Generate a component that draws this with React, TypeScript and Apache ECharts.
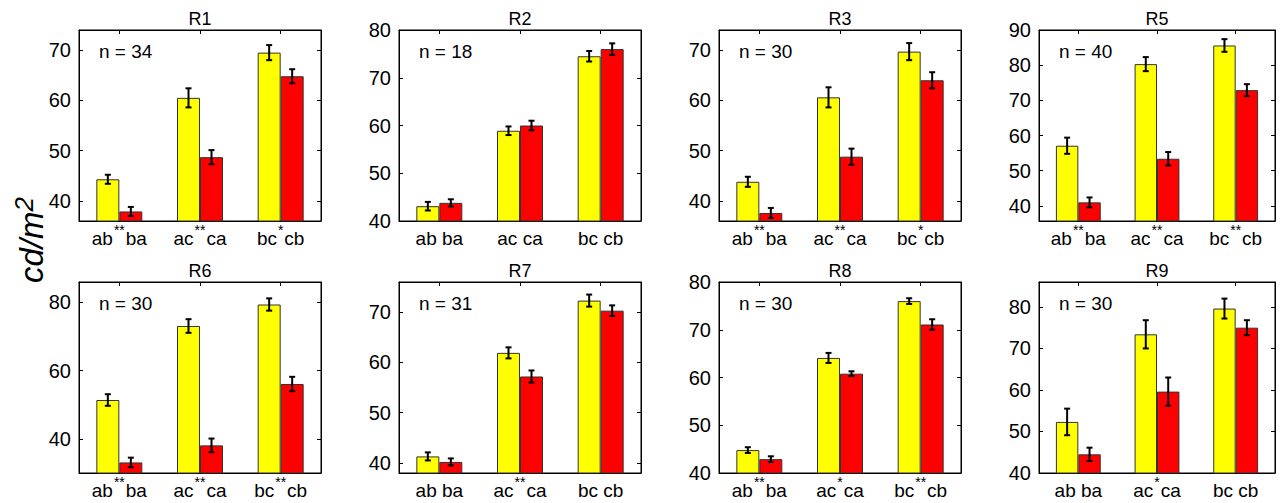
import React, { useEffect, useRef } from "react";
import * as echarts from "echarts";

const panelTitles = ["R1", "R2", "R3", "R5", "R6", "R7", "R8", "R9"];
const sampleSizes = [34, 18, 30, 40, 30, 31, 30, 30];
const categories = ["ab ba", "ac ca", "bc cb"];
const yellowMeans = [
  [44.3, 60.5, 69.5],
  [43.1, 58.9, 74.5],
  [43.8, 60.6, 69.7],
  [57.1, 80.3, 85.6],
  [51.4, 73.1, 79.4],
  [41.3, 61.9, 72.3],
  [44.8, 64.1, 76.0],
  [52.3, 73.4, 79.6],
];
const yellowErrors = [
  [0.9, 1.9, 1.5],
  [0.9, 0.9, 1.1],
  [1.0, 2.0, 1.7],
  [2.3, 2.0, 1.8],
  [1.7, 2.0, 1.8],
  [0.8, 1.1, 1.2],
  [0.6, 1.05, 0.6],
  [3.2, 3.4, 2.4],
];
const redMeans = [
  [37.9, 48.7, 64.8],
  [43.8, 60.0, 76.0],
  [37.6, 48.8, 64.0],
  [41.0, 53.4, 72.9],
  [33.1, 38.1, 56.1],
  [40.2, 57.2, 70.3],
  [42.9, 60.8, 71.1],
  [44.5, 59.6, 75.0],
];
const redErrors = [
  [0.9, 1.4, 1.4],
  [0.75, 1.0, 1.2],
  [1.0, 1.6, 1.6],
  [1.4, 1.9, 1.7],
  [1.4, 2.0, 2.1],
  [0.7, 1.2, 1.05],
  [0.6, 0.5, 1.1],
  [1.6, 3.4, 1.8],
];
const significance = [
  ["**", "**", "*"],
  ["", "", ""],
  ["**", "**", "*"],
  ["**", "**", "**"],
  ["**", "**", "**"],
  ["", "**", ""],
  ["**", "*", "**"],
  ["", "*", ""],
];
const yMins = [36, 40, 36, 35.7, 30, 38, 40, 40];
const yMaxs = [74, 80, 74, 90, 86, 76, 80, 86];
const yTickSteps = [10, 10, 10, 10, 20, 10, 10, 10];
const yAxisLabel = "cd/m";
const yAxisLabelSup = "2";

const FONT = "'Liberation Sans', Arial, Helvetica, sans-serif";
const BAR_FRAC = 0.285;
const colLefts = [79, 399, 719, 1039];
const colWidths = [242, 242, 242, 236];
const rowTops = [30, 282];
const GRID_H = 191;

export default function App() {
  const ref = useRef<HTMLDivElement>(null);

  useEffect(() => {
    if (!ref.current) return;
    const chart = echarts.init(ref.current, null, { renderer: "svg" });

    const grids: any[] = [];
    const xAxes: any[] = [];
    const yAxes: any[] = [];
    const series: any[] = [];
    const graphics: any[] = [];

    panelTitles.forEach((title, p) => {
      const col = p % 4;
      const row = Math.floor(p / 4);
      const left = colLefts[col];
      const top = rowTops[row];
      const width = colWidths[col];
      grids.push({
        left,
        top,
        width,
        height: GRID_H,
        show: true,
        borderColor: "#000",
        borderWidth: 1,
        backgroundColor: "#fff",
        containLabel: false,
      });
      const step = yTickSteps[p];
      const yMin = yMins[p];
      const yMax = yMaxs[p];
      xAxes.push({
        type: "category",
        gridIndex: p,
        data: categories,
        position: "bottom",
        axisLine: { show: true, lineStyle: { color: "#000", width: 1 } },
        axisTick: { show: false },
        axisLabel: {
          color: "#000",
          fontFamily: FONT,
          margin: 2,
          interval: 0,
          hideOverlap: false,
          formatter: (v: string, i: number) => {
            const s = significance[p][i];
            if (!s) return `{w|${v}}`;
            const parts = v.split(" ");
            return `{w|${parts[0]}}{s|${s}}{w|${parts[1]}}`;
          },
          rich: {
            w: { fontFamily: FONT, fontSize: 19, lineHeight: 22, color: "#000", padding: [9, 0, 0, 0] },
            s: {
              fontFamily: FONT,
              fontSize: 14,
              lineHeight: 6,
              verticalAlign: "top",
              color: "#000",
              padding: [0, 1, 0, 1],
            },
          },
        },
      });
      xAxes.push({
        type: "category",
        gridIndex: p,
        data: categories,
        position: "top",
        axisLine: { show: true, lineStyle: { color: "#000", width: 1 } },
        axisTick: { show: true, inside: true, alignWithLabel: true, length: 4, lineStyle: { color: "#000" } },
        axisLabel: { show: false },
      });
      const yCommon = {
        type: "value",
        gridIndex: p,
        min: yMin,
        max: yMax,
        minInterval: step,
        maxInterval: step,
        splitLine: { show: false },
        axisLine: { show: true, lineStyle: { color: "#000", width: 1 } },
        axisTick: { show: true, inside: true, length: 4, lineStyle: { color: "#000" } },
      };
      yAxes.push({
        ...yCommon,
        position: "left",
        axisLabel: {
          color: "#000",
          fontFamily: FONT,
          fontSize: 20,
          margin: 8,
          formatter: (v: number) => (Math.abs(v % step) < 1e-6 ? String(v) : ""),
        },
      });
      yAxes.push({
        ...yCommon,
        position: "right",
        axisLabel: { show: false },
      });

      const xi = p * 2;
      const yi = p * 2;
      series.push({
        type: "bar",
        xAxisIndex: xi,
        yAxisIndex: yi,
        data: yellowMeans[p],
        barWidth: `${BAR_FRAC * 100}%`,
        barGap: "0%",
        itemStyle: { color: "#ffff00", borderColor: "#333", borderWidth: 1 },
        silent: true,
      });
      series.push({
        type: "bar",
        xAxisIndex: xi,
        yAxisIndex: yi,
        data: redMeans[p],
        barWidth: `${BAR_FRAC * 100}%`,
        barGap: "0%",
        itemStyle: { color: "#ff0000", borderColor: "#333", borderWidth: 1 },
        silent: true,
      });
      const errData: number[][] = [];
      categories.forEach((_, i) => {
        errData.push([i, yellowMeans[p][i], yellowErrors[p][i], -1]);
        errData.push([i, redMeans[p][i], redErrors[p][i], 1]);
      });
      series.push({
        type: "custom",
        xAxisIndex: xi,
        yAxisIndex: yi,
        data: errData,
        z: 5,
        silent: true,
        renderItem: (params: any, api: any) => {
          const c = api.value(0);
          const m = api.value(1);
          const e = api.value(2);
          const side = api.value(3);
          const bw = api.size([1, 0])[0] * BAR_FRAC;
          const x = api.coord([c, m])[0] + (side * bw) / 2;
          const y1 = api.coord([c, m + e])[1];
          const y2 = api.coord([c, m - e])[1];
          const cap = 3;
          const st = { stroke: "#000", lineWidth: 2 };
          return {
            type: "group",
            children: [
              { type: "line", shape: { x1: x, y1, x2: x, y2 }, style: st },
              { type: "line", shape: { x1: x - cap, y1, x2: x + cap, y2: y1 }, style: st },
              { type: "line", shape: { x1: x - cap, y1: y2, x2: x + cap, y2 }, style: st },
            ],
          };
        },
      });

      graphics.push({
        type: "text",
        x: left + width / 2,
        y: top - 11,
        style: {
          text: title,
          font: `18px ${FONT}`,
          fill: "#000",
          textAlign: "center",
          textVerticalAlign: "middle",
        },
      });
      graphics.push({
        type: "text",
        x: left + 20,
        y: top + 21,
        style: {
          text: `n = ${sampleSizes[p]}`,
          font: `19px ${FONT}`,
          fill: "#000",
          textVerticalAlign: "middle",
        },
        z: 10,
      });
    });

    graphics.push({
      type: "text",
      x: 29,
      y: 240,
      rotation: Math.PI / 2,
      style: {
        text: `{a|${yAxisLabel}}{b|${yAxisLabelSup}}`,
        textAlign: "center",
        textVerticalAlign: "middle",
        rich: {
          a: { fontFamily: FONT, fontStyle: "italic", fontSize: 33, color: "#000", verticalAlign: "bottom" },
          b: { fontFamily: FONT, fontStyle: "italic", fontSize: 26, color: "#000", verticalAlign: "bottom", padding: [0, 0, 11, 0] },
        },
      },
    });

    chart.setOption({
      animation: false,
      backgroundColor: "#fff",
      grid: grids,
      xAxis: xAxes,
      yAxis: yAxes,
      series,
      graphic: graphics,
    });

    return () => chart.dispose();
  }, []);

  return (
    <div
      ref={ref}
      style={{ position: "fixed", left: 0, top: 0, width: 1282, height: 503, background: "#fff" }}
    />
  );
}
